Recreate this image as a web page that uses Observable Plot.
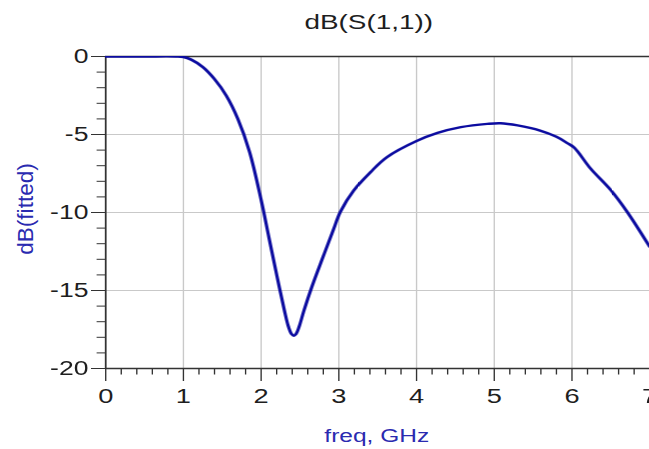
<!DOCTYPE html>
<html>
<head>
<meta charset="utf-8">
<script src="https://cdn.jsdelivr.net/npm/d3@7"></script>
<script src="https://cdn.jsdelivr.net/npm/@observablehq/plot@0.6"></script>
<style>
  html, body { margin: 0; padding: 0; background: #ffffff; overflow: hidden; }
  #chart { width: 477px; transform: scaleX(1.3606); transform-origin: 0 0; }
  #chart svg { overflow: visible; }
</style>
</head>
<body>
<div id="chart"></div>
<script>
// ---- data ----
const freq = [0, 0.5, 0.9, 1.0, 1.1, 1.25, 1.4, 1.55, 1.7, 1.85, 2.0, 2.1, 2.2, 2.3, 2.35, 2.39, 2.42, 2.45, 2.49, 2.55, 2.65, 2.8, 2.93, 3.02, 3.19, 3.41, 3.62, 4.0, 4.27, 4.57, 4.91, 5.08, 5.3, 5.59, 5.8, 5.94, 6.03, 6.24, 6.5, 6.71, 7.0];
const dbFitted = [0, 0, 0, -0.03, -0.2, -0.68, -1.45, -2.5, -4.0, -6.1, -9.2, -11.6, -14.0, -16.3, -17.3, -17.78, -17.9, -17.78, -17.3, -16.3, -14.8, -12.8, -11.1, -9.95, -8.6, -7.4, -6.45, -5.42, -4.9, -4.53, -4.32, -4.28, -4.42, -4.75, -5.15, -5.55, -5.85, -7.19, -8.57, -9.96, -12.2];

const xMajorTicks = [0, 1, 2, 3, 4, 5, 6, 7];
const xMinorTicks = [0.2, 0.4, 0.6, 0.8, 1.2, 1.4, 1.6, 1.8, 2.2, 2.4, 2.6, 2.8, 3.2, 3.4, 3.6, 3.8, 4.2, 4.4, 4.6, 4.8, 5.2, 5.4, 5.6, 5.8, 6.2, 6.4, 6.6, 6.8];
const xGridLines = [1, 2, 3, 4, 5, 6, 7];
const yMajorTicks = [0, -5, -10, -15, -20];
const yMinorTicks = [-1, -2, -3, -4, -6, -7, -8, -9, -11, -12, -13, -14, -16, -17, -18, -19];
const yGridLines = [-5, -10, -15];

const titleText = "dB(S(1,1))";
const xLabelText = "freq, GHz";
const yLabelText = "dB(fitted)";

const rows = freq.map((f, i) => ({freq: f, db: dbFitted[i]}));

const axisColor = "#333333";
const gridColor = "#c9c9c9";
const curveColor = "#0c0ca0";
const labelColor = "#2a2ab0";
const textColor = "#1e1e1e";

const chart = Plot.plot({
  width: 477,
  height: 449,
  marginLeft: 77.2,
  marginRight: 0,
  marginTop: 56,
  marginBottom: 81,
  style: {fontFamily: "'Liberation Sans', Arial, sans-serif", background: "#ffffff", overflow: "visible"},
  x: {domain: [0, 7]},
  y: {domain: [-20, 0]},
  marks: [
    Plot.gridX(xGridLines, {stroke: gridColor, strokeOpacity: 1, strokeWidth: 1}),
    Plot.gridY(yGridLines, {stroke: gridColor, strokeOpacity: 1, strokeWidth: 1}),
    Plot.ruleY([0], {stroke: axisColor, strokeWidth: 1.3}),
    Plot.ruleY([-20], {stroke: axisColor, strokeWidth: 1.3}),
    Plot.ruleX([0], {stroke: axisColor, strokeWidth: 1.3}),
    Plot.axisX(xMajorTicks, {tickSize: 13, tickPadding: 7, fontSize: 20, stroke: axisColor, fill: textColor, label: null, tickFormat: d => String(d)}),
    Plot.axisX(xMinorTicks, {tickSize: 6.5, stroke: axisColor, label: null, tickFormat: () => ""}),
    Plot.axisY(yMajorTicks, {tickSize: 10.3, tickPadding: 2.4, fontSize: 19.5, stroke: axisColor, fill: textColor, label: null, tickFormat: d => String(d)}),
    Plot.axisY(yMinorTicks, {tickSize: 6.2, stroke: axisColor, label: null, tickFormat: () => ""}),
    Plot.line(rows, {x: "freq", y: "db", stroke: curveColor, strokeWidth: 2.4, curve: "catmull-rom", clip: true}),
    Plot.text([titleText], {text: d => d, frameAnchor: "top", dx: -6.6, dy: -27.5, lineAnchor: "bottom", fontSize: 20.5, fill: textColor}),
    Plot.text([xLabelText], {text: d => d, frameAnchor: "bottom", dx: -0.7, dy: 73, lineAnchor: "bottom", fontSize: 18, fill: labelColor})
  ]
});

document.getElementById("chart").appendChild(chart);

// rotated y-axis label; its glyphs are drawn wide along the baseline, as in the reference
d3.select(chart).append("text")
  .attr("transform", "translate(18.7,209) rotate(-90) scale(1.37,1)")
  .attr("text-anchor", "middle")
  .attr("dy", "0.35em")
  .attr("font-size", 16.5)
  .attr("font-family", "'Liberation Sans', Arial, sans-serif")
  .attr("fill", labelColor)
  .text(yLabelText);
</script>
</body>
</html>
